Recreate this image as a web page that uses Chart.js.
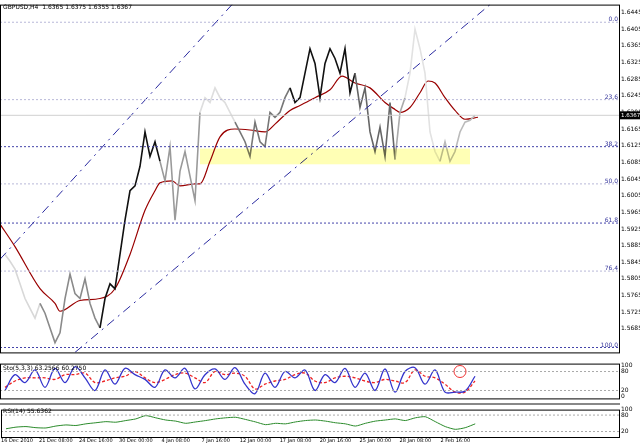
<!DOCTYPE html>
<html><head><meta charset="utf-8">
<script src="https://cdn.jsdelivr.net/npm/chart.js@4/dist/chart.umd.min.js"></script>
<style>
body{margin:0;background:#fff;width:640px;height:445px;overflow:hidden;position:relative;font-family:"DejaVu Sans",sans-serif}
.p{position:absolute;left:0;width:640px}
.t{position:absolute;font-size:6px;color:#000;white-space:nowrap}
</style></head><body>
<div class="p" style="top:0;height:357px"><canvas id="main" width="640" height="357"></canvas></div>
<div class="p" style="top:359px;height:44px"><canvas id="sto" width="640" height="44"></canvas></div>
<div class="p" style="top:405px;height:40px"><canvas id="rsi" width="640" height="40"></canvas></div>
<div style="position:absolute;left:0;top:403px;width:620px;height:2px;background:#888"></div>
<div class="t" style="left:3px;top:3px">GBPUSD,H4&nbsp; 1.6365 1.6375 1.6355 1.6367</div>
<div class="t" style="left:3px;top:364px">Sto(5,3,3) 63.2566 60.2750</div>
<div class="t" style="left:3px;top:407px">RSI(14) 55.6362</div>
<script>
// price closes, one every 5 time units
const priceX0 = 5, priceStep = 5
const closes = [1.5951,1.5937,1.5921,1.5891,1.5861,1.5841,1.5821,1.5851,1.5831,1.5801,1.5771,1.5791,1.5861,1.5911,1.5871,1.5861,1.5901,1.5851,1.5821,1.5801,
1.5861,1.5891,1.5881,1.5951,1.6021,1.6081,1.6091,1.6131,1.6201,1.6151,1.6181,1.6141,1.6101,1.6171,1.6021,1.6121,1.6161,1.6111,1.6061,1.6241,
1.6271,1.6261,1.6291,1.6271,1.6261,1.6241,1.6221,1.6201,1.6181,1.6151,1.6221,1.6181,1.6171,1.6241,1.6231,1.6241,1.6271,1.6291,1.6261,1.6271,
1.6321,1.6371,1.6341,1.6271,1.6341,1.6371,1.6351,1.6321,1.6371,1.6281,1.6321,1.6251,1.6291,1.6201,1.6161,1.6211,1.6151,1.6261,1.6145,1.6241,
1.6271,1.6321,1.6411,1.6371,1.6321,1.6201,1.6161,1.6141,1.6181,1.6141,1.6161,1.6201,1.6221,1.6225,1.6235]
const maX = [0,15,40,55,60,80,100,115,130,145,155,160,172,180,195,200,210,220,235,250,265,275,290,300,315,330,342,355,370,385,395,400,410,420,428,435,445,455,465,478]
const maY = [1.6013,1.5967,1.5881,1.5851,1.5835,1.5857,1.5861,1.5881,1.5951,1.6041,1.6081,1.6097,1.6101,1.6091,1.6095,1.6095,1.6141,1.6191,1.6207,1.6205,1.6201,1.6217,1.6245,1.6255,1.6271,1.6287,1.6315,1.6301,1.6291,1.6261,1.6247,1.6241,1.6251,1.6281,1.6305,1.6301,1.6271,1.6245,1.6227,1.6231]
const fibNames = ['0.0','23.6','38.2','50.0','61.8','76.4','100.0']
const fibPrices = [1.6425,1.6267,1.6171,1.6095,1.6015,1.5917,1.5761]
const zone = [200,470,1.6167,1.6135]
const chanUp = [[0,1.5941],[232,1.6461]]
const chanLo = [[75,1.5751],[490,1.6461]]
const lastPrice = 1.6235, lastLabel = '1.6367'
const priceTicks = [1.6445,1.6411,1.6377,1.6343,1.6309,1.6275,1.6241,1.6207,1.6173,1.6139,1.6105,1.6071,1.6037,1.6003,1.5969,1.5935,1.5901,1.5867,1.5833,1.5799]
const priceTickLabels = ['1.6445','1.6405','1.6365','1.6325','1.6285','1.6245','1.6205','1.6165','1.6125','1.6085','1.6045','1.6005','1.5965','1.5925','1.5885','1.5845','1.5805','1.5765','1.5725','1.5685']
// colour of price bars by time zone (MT "gradient" template)
const shadeFrom = [0,40,100,160,200,235,290,355,395,405,440]
const shades = ['#d8d8d8','#8a8a8a','#111','#9a9a9a','#dedede','#777','#111','#666','#aaa','#e2e2e2','#bbb']

// stochastic, one every 10 time units
const oscX0 = 5, oscStep = 10
const stoMain = [20,70,45,85,30,90,45,95,60,20,85,40,90,70,55,30,85,60,90,25,70,88,55,92,40,10,75,30,80,60,85,20,70,45,90,30,75,20,88,15,80,92,40,85,15,15,18,65]
const stoSig  = [30,50,60,60,60,55,70,70,75,45,50,60,65,80,60,45,55,70,75,60,45,80,70,75,65,25,40,50,55,70,75,50,45,60,65,60,50,45,55,50,45,85,65,60,40,15,15,50]
// RSI
const rsi = [30,36,38,34,33,40,44,42,48,52,56,54,60,66,78,70,62,58,50,55,60,66,70,72,64,55,45,50,48,55,60,62,58,52,48,40,50,58,62,66,60,70,74,56,38,28,34,48]
const timeLabels = ['16 Dec 2010','21 Dec 08:00','24 Dec 16:00','30 Dec 00:00','4 Jan 08:00','7 Jan 16:00','12 Jan 00:00','17 Jan 08:00','20 Jan 16:00','25 Jan 00:00','28 Jan 08:00','2 Feb 16:00']
const timeAt = [16,55,95,135,175,215,255,295,335,375,415,455]

const xs = (x0, st, arr) => arr.map((v, i) => ({x: x0 + st * i, y: v}))
const fnt = {family:'DejaVu Sans', size:6}

const frame = {
	id:'frame',
	afterDraw(c, _, o) {
		const {ctx, chartArea:a, scales:{x, y}} = c
		ctx.save()
		if (o.zone) {
			ctx.fillStyle = 'rgba(255,255,120,0.55)'
			const x1 = x.getPixelForValue(zone[0]), x2 = x.getPixelForValue(zone[1])
			const y1 = y.getPixelForValue(zone[2]), y2 = y.getPixelForValue(zone[3])
			ctx.globalCompositeOperation = 'multiply'
			ctx.fillRect(x1, y1, x2 - x1, y2 - y1)
			ctx.globalCompositeOperation = 'source-over'
			ctx.fillStyle = '#33339a'
			ctx.font = '6px DejaVu Sans'
			ctx.textAlign = 'right'
			fibNames.forEach((n, i) => ctx.fillText(n, a.right - 2, y.getPixelForValue(fibPrices[i]) - 1))
			const py = y.getPixelForValue(lastPrice)
			ctx.fillStyle = '#000'
			ctx.fillRect(a.right, py - 4, 20, 8)
			ctx.fillStyle = '#fff'
			ctx.textAlign = 'left'
			ctx.font = '5.5px DejaVu Sans'
			ctx.fillText(lastLabel, a.right + 1, py + 2)
		}
		if (o.circle) {
			ctx.strokeStyle = '#e33'
			ctx.beginPath()
			ctx.arc(x.getPixelForValue(460), y.getPixelForValue(80), 6, 0, Math.PI * 2)
			ctx.stroke()
		}
		ctx.strokeStyle = '#000'
		ctx.lineWidth = 1
		ctx.strokeRect(a.left + 0.5, a.top + 0.5, a.width - 1, a.height)
		ctx.restore()
	}
}

const xScale = (labels) => ({
	type:'linear', min:0, max:620,
	grid:{display:false, drawTicks:false}, border:{display:false},
	afterBuildTicks: s => { s.ticks = labels ? timeAt.map(v => ({value:v})) : [] },
	ticks:{display:!!labels, color:'#000', font:{family:'DejaVu Sans', size:5}, maxRotation:0, padding:1, autoSkip:false,
		callback:(v) => timeLabels[timeAt.indexOf(v)] || ''}
})
const yScale = (min, max, ticks, labels) => ({
	position:'right', min, max,
	afterFit: s => { s.width = 20 },
	grid:{display:false, drawTicks:false}, border:{display:false},
	afterBuildTicks: s => { s.ticks = ticks.map(v => ({value:v})) },
	ticks:{color:'#000', font:fnt, padding:1, autoSkip:false, callback:(v) => labels[ticks.indexOf(v)]}
})
const hline = (y, color, dash, w) => ({type:'line', data:[{x:0,y},{x:620,y}], borderColor:color, borderWidth:w||1, borderDash:dash, pointRadius:0})

const base = {responsive:false, animation:false, devicePixelRatio:1, layout:{padding:0},
	plugins:{legend:{display:false}, tooltip:{enabled:false}}}

new Chart(document.getElementById('main'), {
	type:'line',
	data:{datasets:[
		...fibPrices.map((p, i) => hline(p, i == 2 || i == 4 || i == 6 ? '#4444aa' : '#b8b8d8', [2,2])),
		hline(lastPrice, '#d0d0d0', []),
		{data:chanUp.map(p => ({x:p[0], y:p[1]})), borderColor:'#2a2aa0', borderWidth:1, borderDash:[9,5,2,5], pointRadius:0},
		{data:chanLo.map(p => ({x:p[0], y:p[1]})), borderColor:'#2a2aa0', borderWidth:1, borderDash:[9,5,2,5], pointRadius:0},
		{data:xs(priceX0, priceStep, closes), borderWidth:1.6, pointRadius:0, tension:0,
			segment:{borderColor: c => { let k = 0; shadeFrom.forEach((f, i) => { if (c.p0.parsed.x >= f) k = i }); return shades[k] }}},
		{data:maX.map((x, i) => ({x, y:maY[i]})), borderColor:'#990000', borderWidth:1.2, pointRadius:0, cubicInterpolationMode:'monotone'}
	]},
	options:{...base, plugins:{...base.plugins, frame:{zone:true}},
		scales:{x:xScale(false), y:yScale(1.5751, 1.6461, priceTicks, priceTickLabels)}},
	plugins:[frame]
})

new Chart(document.getElementById('sto'), {
	type:'line',
	data:{datasets:[
		hline(80, '#aaa', [2,2]), hline(20, '#aaa', [2,2]),
		{data:xs(oscX0, oscStep, stoMain), borderColor:'#3333cc', borderWidth:1.3, pointRadius:0, tension:0.35},
		{data:xs(oscX0, oscStep, stoSig), borderColor:'#ee2222', borderWidth:1.3, borderDash:[3,2], pointRadius:0, tension:0.35}
	]},
	options:{...base, plugins:{...base.plugins, frame:{circle:true}},
		scales:{x:xScale(false), y:yScale(-5, 105, [100,80,20,0], ['100','80','20','0'])}},
	plugins:[frame]
})

new Chart(document.getElementById('rsi'), {
	type:'line',
	data:{datasets:[
		hline(80, '#aaa', [2,2]), hline(20, '#aaa', [2,2]),
		{data:xs(oscX0, oscStep, rsi), borderColor:'#2a8a2a', borderWidth:1, pointRadius:0, tension:0.2}
	]},
	options:{...base, plugins:{...base.plugins, frame:{}},
		scales:{x:xScale(true), y:yScale(0, 100, [100,80,20], ['100','80','20'])}},
	plugins:[frame]
})
</script>
</body></html>
